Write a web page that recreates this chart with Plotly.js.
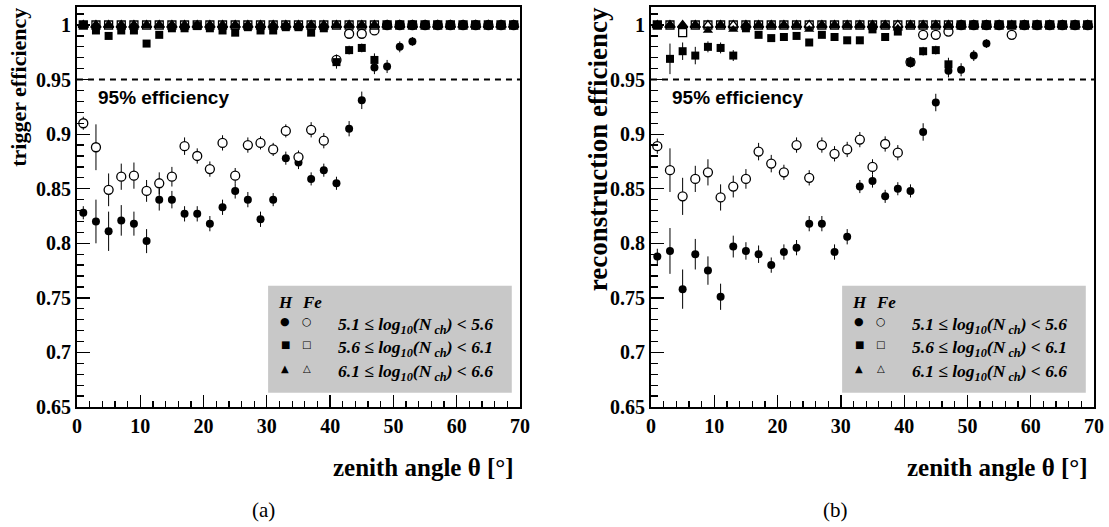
<!DOCTYPE html>
<html>
<head>
<meta charset="utf-8">
<script src="https://cdn.plot.ly/plotly-3.0.1.min.js"></script>
<style>
html,body{margin:0;padding:0;background:#fff;}
#chart{width:1109px;height:527px;}
#chart .xtick text, #chart .ytick text, #chart .x2tick text, #chart .y2tick text {
  font-family: 'Liberation Serif', serif !important; font-weight: bold !important; font-size: 20px !important; fill: #000 !important;
}
</style>
</head>
<body>
<div id="chart"></div>
<script>
// zenith angle bin centres (degrees)
const angles = [1,3,5,7,9,11,13,15,17,19,21,23,25,27,29,31,33,35,37,39,41,43,45,47,49,51,53,55,57,59,61,63,65,67,69];

// ---------- (a) trigger efficiency ----------
const trigH1 = [0.828,0.820,0.811,0.821,0.818,0.802,0.840,0.840,0.827,0.827,0.818,0.833,0.848,0.840,0.822,0.840,0.878,0.874,0.859,0.867,0.855,0.905,0.931,0.961,0.962,0.980,0.985,1,1,1,1,1,1,1,1];
const trigH1err = [0.006,0.020,0.018,0.014,0.011,0.011,0.010,0.008,0.007,0.007,0.007,0.007,0.007,0.007,0.007,0.006,0.006,0.006,0.006,0.006,0.006,0.007,0.008,0.006,0.006,0.005,0.004,0,0,0,0,0,0,0,0];
const trigFe1 = [0.910,0.888,0.849,0.861,0.862,0.848,0.855,0.861,0.889,0.880,0.868,0.892,0.862,0.890,0.892,0.886,0.903,0.879,0.904,0.894,0.968,0.992,0.992,0.995,1,1,1,1,1,1,1,1,1,1,1];
const trigFe1err = [0.006,0.021,0.015,0.012,0.012,0.010,0.010,0.009,0.008,0.007,0.007,0.007,0.007,0.007,0.006,0.006,0.006,0.006,0.007,0.007,0.005,0.004,0.004,0.003,0,0,0,0,0,0,0,0,0,0,0];
const trigH2 = [1,0.995,0.990,0.995,0.995,0.983,0.991,0.997,0.997,0.999,0.997,0.995,0.993,0.998,0.995,0.995,0.998,0.998,0.993,0.997,0.966,0.977,0.979,0.968,1,1,1,1,1,1,1,1,1,1,1];
const trigH2err = [0,0.003,0.003,0.003,0.003,0.003,0.003,0.002,0.002,0.002,0.002,0.002,0.002,0.002,0.002,0.002,0.002,0.002,0.002,0.002,0.006,0.004,0.004,0.006,0,0,0,0,0,0,0,0,0,0,0];
const trigFe2 = [1,1,1,1,1,1,1,1,1,1,1,1,1,1,1,1,1,1,1,1,1,1,1,1,1,1,1,1,1,1,1,1,1,1,1];
const trigH3 = [1,1,1,1,1,1,1,1,1,1,1,1,1,1,1,1,1,1,1,1,1,1,1,1,1,1,1,1,1,1,1,1,1,1,1];
const trigFe3 = [1,1,1,1,1,1,1,1,1,1,1,1,1,1,1,1,1,1,1,1,1,1,1,1,1,1,1,1,1,1,1,1,1,1,1];

// ---------- (b) reconstruction efficiency ----------
const recoH1 = [0.788,0.793,0.758,0.790,0.775,0.751,0.797,0.793,0.790,0.780,0.792,0.796,0.818,0.818,0.792,0.806,0.852,0.857,0.843,0.850,0.848,0.902,0.929,0.958,0.959,0.972,0.983,1,1,1,1,1,1,1,1];
const recoH1err = [0.007,0.021,0.018,0.014,0.013,0.012,0.010,0.008,0.008,0.007,0.007,0.007,0.007,0.007,0.007,0.007,0.006,0.006,0.006,0.006,0.006,0.008,0.008,0.006,0.006,0.005,0.004,0,0,0,0,0,0,0,0];
const recoFe1 = [0.889,0.867,0.843,0.859,0.865,0.842,0.852,0.859,0.884,0.873,0.865,0.890,0.860,0.890,0.882,0.886,0.895,0.870,0.891,0.883,0.966,0.991,0.991,0.994,1,1,1,1,0.991,1,1,1,1,1,1];
const recoFe1err = [0.007,0.020,0.017,0.012,0.012,0.012,0.010,0.009,0.008,0.008,0.007,0.007,0.007,0.007,0.007,0.007,0.007,0.007,0.007,0.007,0.005,0.004,0.004,0.003,0,0,0,0,0.003,0,0,0,0,0,0];
const recoH2 = [1,0.969,0.976,0.972,0.980,0.979,0.972,0.997,0.991,0.988,0.989,0.990,0.984,0.991,0.989,0.986,0.986,0.996,0.989,0.994,0.966,0.976,0.977,0.964,1,1,1,1,1,1,1,1,1,1,1];
const recoH2err = [0,0.014,0.008,0.008,0.005,0.005,0.005,0.003,0.003,0.003,0.003,0.003,0.003,0.003,0.003,0.003,0.003,0.003,0.003,0.003,0.004,0.004,0.004,0.006,0,0,0,0,0,0,0,0,0,0,0];
const recoFe2 = [1,1,0.993,1,1,1,1,1,1,1,1,1,1,1,1,1,1,1,1,1,1,1,1,1,1,1,1,1,1,1,1,1,1,1,1];
const recoH3 = [1,1,1,1,0.995,1,0.996,1,1,1,1,1,0.996,1,1,1,1,1,1,0.997,1,1,1,1,1,1,1,1,1,1,1,1,1,1,1];
const recoFe3 = [1,1,1,1,1,1,1,1,1,1,1,1,1,1,1,1,1,1,1,1,1,1,1,1,1,1,1,1,1,1,1,1,1,1,1];

// axis tick labels
const yTickVals = [0.65,0.7,0.75,0.8,0.85,0.9,0.95,1];
const yTickText = ['0.65','0.7','0.75','0.8','0.85','0.9','0.95','1'];
const xTickVals = [0,10,20,30,40,50,60,70];
const xTickText = ['0','10','20','30','40','50','60','70'];

const legendRows = [
  '5.1 ≤ log<sub>10</sub>(N<sub> ch</sub>) &lt; 5.6',
  '5.6 ≤ log<sub>10</sub>(N<sub> ch</sub>) &lt; 6.1',
  '6.1 ≤ log<sub>10</sub>(N<sub> ch</sub>) &lt; 6.6'
];
const legendSymH = ['●','■','▲'];
const legendSymFe = ['○','□','△'];

function mk(xa, ya, ys, errs, marker) {
  const t = {x: angles, y: ys, xaxis: xa, yaxis: ya, type: 'scatter', mode: 'markers',
    marker: marker, showlegend: false, hoverinfo: 'skip', cliponaxis: true};
  if (errs) t.error_y = {type: 'data', array: errs, visible: true, width: 0, thickness: 1, color: '#000'};
  return t;
}
const mHc = {symbol: 'circle', size: 8, color: '#000'};
const mFc = {symbol: 'circle', size: 9, color: '#fff', line: {color: '#000', width: 1.3}};
const mHs = {symbol: 'square', size: 8, color: '#000'};
const mFs = {symbol: 'square-open', size: 8, color: '#000', line: {width: 1.3}};
const mHt = {symbol: 'triangle-up', size: 9, color: '#000'};
const mFt = {symbol: 'triangle-up-open', size: 9, color: '#000', line: {width: 1.3}};

const traces = [
  mk('x','y',trigH1,trigH1err,mHc), mk('x','y',trigFe1,trigFe1err,mFc),
  mk('x','y',trigH2,trigH2err,mHs), mk('x','y',trigFe2,null,mFs),
  mk('x','y',trigH3,null,mHt), mk('x','y',trigFe3,null,mFt),
  mk('x2','y2',recoH1,recoH1err,mHc), mk('x2','y2',recoFe1,recoFe1err,mFc),
  mk('x2','y2',recoH2,recoH2err,mHs), mk('x2','y2',recoFe2,null,mFs),
  mk('x2','y2',recoH3,null,mHt), mk('x2','y2',recoFe3,null,mFt)
];

function tickFont() { return {family: 'Liberation Serif', size: 20, color: '#000', weight: 'bold'}; }
function xax(domain, anchor) {
  return {domain: domain, anchor: anchor, range: [0, 70], tickmode: 'array', tickvals: xTickVals, ticktext: xTickText,
    ticks: 'inside', ticklen: 12, tickwidth: 1.3, tickcolor: '#000', showline: true, linewidth: 2, linecolor: '#000',
    mirror: true, showgrid: false, zeroline: false, tickfont: tickFont(),
    minor: {dtick: 2, ticks: 'inside', ticklen: 6, tickwidth: 1.3, tickcolor: '#000', showgrid: false}};
}
function yax(anchor) {
  return {domain: [0.2277, 0.9867], anchor: anchor, range: [0.65, 1.0165], tickmode: 'array', tickvals: yTickVals, ticktext: yTickText,
    ticks: 'inside', ticklen: 13, tickwidth: 1.3, tickcolor: '#000', showline: true, linewidth: 2, linecolor: '#000',
    mirror: true, showgrid: false, zeroline: false, tickfont: tickFont(),
    minor: {dtick: 0.01, ticks: 'inside', ticklen: 7, tickwidth: 1.3, tickcolor: '#000', showgrid: false}};
}

const shapes = [];
const annotations = [];
[['x','y'],['x2','y2']].forEach(function(p) {
  const xr = p[0], yr = p[1];
  shapes.push({type: 'line', xref: xr + ' domain', yref: yr, x0: 0, x1: 1, y0: 0.95, y1: 0.95,
    line: {color: '#000', width: 2, dash: '6px,5px'}});
  shapes.push({type: 'rect', xref: xr, yref: yr, x0: 30.2, x1: 68.7, y0: 0.663, y1: 0.761,
    fillcolor: '#c8c8c8', line: {width: 0}, layer: 'below'});
  annotations.push({xref: xr, yref: yr, x: 3, y: 0.934, xanchor: 'left', yanchor: 'middle', showarrow: false,
    text: '95% efficiency', font: {family: 'Liberation Sans', size: 19, color: '#000', weight: 'bold'}});
  annotations.push({xref: xr, yref: yr, x: 32.9, y: 0.746, xanchor: 'center', yanchor: 'middle', showarrow: false,
    text: '<i>H</i>', font: {family: 'Liberation Serif', size: 17, color: '#000', weight: 'bold'}});
  annotations.push({xref: xr, yref: yr, x: 37.2, y: 0.746, xanchor: 'center', yanchor: 'middle', showarrow: false,
    text: '<i>Fe</i>', font: {family: 'Liberation Serif', size: 17, color: '#000', weight: 'bold'}});
  const rowY = [0.728, 0.707, 0.685];
  for (let i = 0; i < 3; i++) {
    annotations.push({xref: xr, yref: yr, x: 32.9, y: rowY[i], xanchor: 'center', yanchor: 'middle', showarrow: false,
      text: legendSymH[i], font: {family: 'DejaVu Sans', size: i === 0 ? 11 : 10, color: '#000'}});
    annotations.push({xref: xr, yref: yr, x: 36.3, y: rowY[i], xanchor: 'center', yanchor: 'middle', showarrow: false,
      text: legendSymFe[i], font: {family: 'DejaVu Sans', size: i === 0 ? 11 : 10, color: '#000'}});
    annotations.push({xref: xr, yref: yr, x: 41.0, y: rowY[i] - 0.003, xanchor: 'left', yanchor: 'middle', showarrow: false,
      text: '<i>' + legendRows[i] + '</i>', font: {family: 'Liberation Serif', size: 17.5, color: '#000', weight: 'bold'}});
  }
});

annotations.push({xref: 'paper', yref: 'paper', x: 0.0171, y: 0.99, xanchor: 'center', yanchor: 'top', textangle: -90,
  showarrow: false, text: 'trigger efficiency', font: {family: 'Liberation Serif', size: 22, color: '#000', weight: 'bold'}});
annotations.push({xref: 'paper', yref: 'paper', x: 0.5392, y: 0.99, xanchor: 'center', yanchor: 'top', textangle: -90,
  showarrow: false, text: 'reconstruction efficiency', font: {family: 'Liberation Serif', size: 27, color: '#000', weight: 'bold'}});
annotations.push({xref: 'paper', yref: 'paper', x: 0.4653, y: 0.112, xanchor: 'right', yanchor: 'middle',
  showarrow: false, text: 'zenith angle θ [°]', font: {family: 'Liberation Serif', size: 25, color: '#000', weight: 'bold'}});
annotations.push({xref: 'paper', yref: 'paper', x: 0.9829, y: 0.112, xanchor: 'right', yanchor: 'middle',
  showarrow: false, text: 'zenith angle θ [°]', font: {family: 'Liberation Serif', size: 25, color: '#000', weight: 'bold'}});
annotations.push({xref: 'paper', yref: 'paper', x: 0.238, y: 0.0323, xanchor: 'center', yanchor: 'middle',
  showarrow: false, text: '(a)', font: {family: 'Liberation Serif', size: 21, color: '#000'}});
annotations.push({xref: 'paper', yref: 'paper', x: 0.7538, y: 0.0323, xanchor: 'center', yanchor: 'middle',
  showarrow: false, text: '(b)', font: {family: 'Liberation Serif', size: 21, color: '#000'}});

const layout = {
  width: 1109, height: 527, margin: {l: 0, r: 0, t: 0, b: 0},
  paper_bgcolor: '#fff', plot_bgcolor: '#fff', showlegend: false,
  font: {family: 'Liberation Serif', size: 20, color: '#000'},
  xaxis: xax([0.0694, 0.4689], 'y'), yaxis: yax('x'),
  xaxis2: xax([0.5870, 0.9865], 'y2'), yaxis2: yax('x2'),
  shapes: shapes, annotations: annotations
};
Plotly.newPlot('chart', traces, layout, {staticPlot: true, displayModeBar: false});
</script>
</body>
</html>
